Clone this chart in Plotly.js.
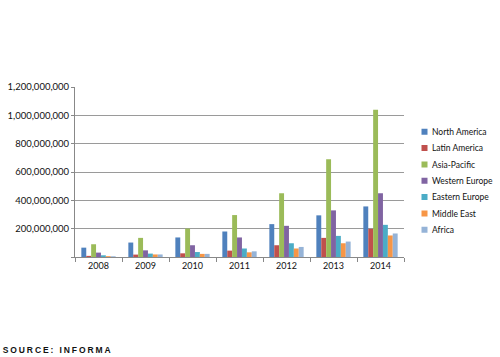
<!DOCTYPE html>
<html>
<head>
<meta charset="utf-8">
<script src="https://cdn.plot.ly/plotly-3.0.1.min.js"></script>
<style>
html,body{margin:0;padding:0;background:#fff;}
#chart{width:500px;height:357px;}
g.annotation text{letter-spacing:1.9px;}
</style>
</head>
<body>
<div id="chart"></div>
<script>
const years = ['2008','2009','2010','2011','2012','2013','2014'];
const northAmerica = [66e6, 102e6, 138e6, 180e6, 232e6, 294e6, 357e6];
const latinAmerica = [8e6, 17e6, 26e6, 45e6, 83e6, 135e6, 199e6];
const asiaPacific = [90e6, 135e6, 201e6, 296e6, 450e6, 690e6, 1040e6];
const westernEurope = [31e6, 47e6, 83e6, 138e6, 220e6, 329e6, 450e6];
const easternEurope = [12e6, 24e6, 35e6, 60e6, 97e6, 149e6, 227e6];
const middleEast = [6e6, 18e6, 22e6, 33e6, 60e6, 97e6, 152e6];
const africa = [5e6, 18e6, 22e6, 40e6, 71e6, 109e6, 166e6];
const seriesNames = ['North America','Latin America','Asia-Pacific','Western Europe','Eastern Europe','Middle East','Africa'];
const seriesValues = [northAmerica, latinAmerica, asiaPacific, westernEurope, easternEurope, middleEast, africa];
const colors = ['#4F81BD','#C0504D','#9BBB59','#8064A2','#4BACC6','#F79646','#95B3D7'];
const yTicks = [0, 200e6, 400e6, 600e6, 800e6, 1000e6, 1200e6];
const yTickText = ['', '200,000,000', '400,000,000', '600,000,000', '800,000,000', '1,000,000,000', '1,200,000,000'];

const font = 'Lato, "Open Sans", sans-serif';
const traces = seriesNames.map((n, i) => ({
  type: 'bar', name: n, x: years, y: seriesValues[i],
  marker: {color: colors[i], line: {width: 0}}
}));

const layout = {
  width: 500, height: 357,
  margin: {l: 75, r: 90, t: 87, b: 100},
  paper_bgcolor: '#fff', plot_bgcolor: '#fff',
  barmode: 'group', bargap: 0.27, bargroupgap: 0,
  font: {family: font, size: 9, color: '#111'},
  xaxis: {
    type: 'category',
    showgrid: false, showline: true, linecolor: '#888', linewidth: 1,
    ticks: 'outside', tickson: 'boundaries', ticklen: 4, tickcolor: '#888',
    tickfont: {family: font, size: 9, color: '#111'}
  },
  yaxis: {
    range: [0, 1200e6], tickvals: yTicks, ticktext: yTickText,
    showgrid: true, gridcolor: '#9a9a9a', gridwidth: 1,
    showline: true, linecolor: '#888', ticks: 'outside', ticklen: 3, tickcolor: '#888',
    zeroline: false, tickfont: {family: font, size: 9.5, color: '#111'}
  },
  legend: {
    x: 1.257, xanchor: 'right', y: 0.447, yanchor: 'middle',
    font: {family: font, size: 8.5, color: '#111'},
    itemwidth: 30, tracegroupgap: 0, bgcolor: 'rgba(0,0,0,0)'
  },
  showlegend: true,
  annotations: [{
    text: '<b>SOURCE: INFORMA</b>', xref: 'paper', yref: 'paper',
    x: -0.181, y: -0.545, xanchor: 'left', yanchor: 'middle', showarrow: false,
    font: {family: '"Liberation Sans", Arial, sans-serif', size: 8.5, color: '#111'}
  }]
};

const gd = document.getElementById('chart');
Plotly.newPlot(gd, traces, layout, {displayModeBar: false, staticPlot: true}).then(() => {
  // tighten the legend to match the reference (small square keys, 16px rows)
  const leg = gd.querySelector('g.legend');
  if (!leg) return;
  const items = leg.querySelectorAll('g.traces');
  if (!items.length) return;
  const m = /translate\(\s*([-\d.]+)[ ,]+([-\d.]+)/.exec(items[0].getAttribute('transform') || '');
  const y0 = m ? parseFloat(m[2]) : 10;
  items.forEach((g, i) => {
    g.setAttribute('transform', `translate(0,${y0 + i * 16.35})`);
    g.querySelectorAll('.legendpoints path').forEach(p => {
      p.setAttribute('d', 'M3,3H-3V-3H3Z');
      p.setAttribute('transform', 'translate(32.5,0)');
    });
  });
  const lm = /translate\(\s*([-\d.]+)[ ,]+([-\d.]+)/.exec(leg.getAttribute('transform') || '');
  let lx = lm ? parseFloat(lm[1]) : 400, ly = lm ? parseFloat(lm[2]) : 100;
  const base = gd.getBoundingClientRect();
  const t = items[0].querySelector('text.legendtext');
  const r = t.getBoundingClientRect();
  const dx = 432 - (r.left - base.left);
  const dy = 132 - ((r.top + r.bottom) / 2 - base.top);
  leg.setAttribute('transform', `translate(${lx + dx},${ly + dy})`);
});
</script>
</body>
</html>
